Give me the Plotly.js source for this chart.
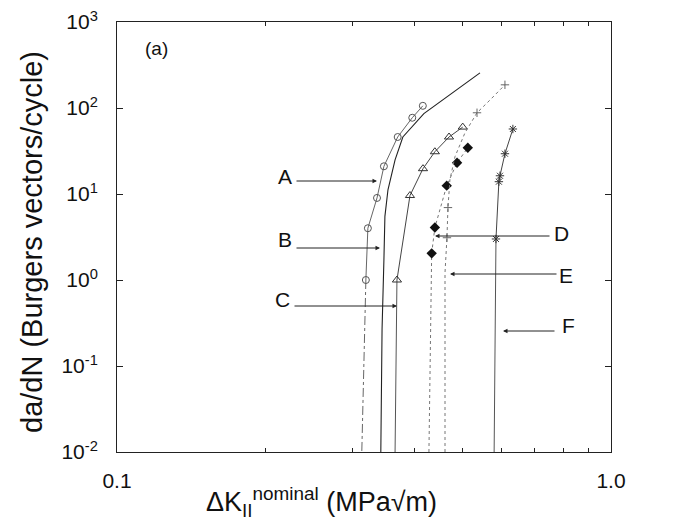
<!DOCTYPE html>
<html>
<head>
<meta charset="utf-8">
<script src="https://cdn.plot.ly/plotly-3.0.1.min.js"></script>
<style>html,body{margin:0;padding:0;background:#fff;}#chart{width:689px;height:522px;}</style>
</head>
<body>
<div id="chart"></div>
<script>
// Curve A (open circles)
const A_x = [0.319, 0.322, 0.336, 0.347, 0.370, 0.396, 0.416];
const A_y = [1.0, 4.0, 9.0, 21, 46, 77, 106];
const A_tail_x = [0.319, 0.316, 0.313];
const A_tail_y = [1.0, 0.1, 0.01];
// Curve B (solid, no markers)
const B_x = [0.342, 0.344, 0.347, 0.3486, 0.3536, 0.3655, 0.379, 0.418, 0.543];
const B_y = [0.01, 0.27, 1.73, 5.5, 11.2, 25, 46, 86, 256];
// Curve C (open triangles)
const C_x = [0.3687, 0.3918, 0.4163, 0.440, 0.470, 0.501];
const C_y = [1.0, 9.6, 19.7, 31, 46, 60];
const C_tail_x = [0.3655, 0.3687];
const C_tail_y = [0.01, 1.0];
// Curve D (filled diamonds)
const D_x = [0.4335, 0.440, 0.465, 0.488, 0.513];
const D_y = [2.04, 4.07, 12.5, 23.1, 34.5];
const D_tail_x = [0.428, 0.4335];
const D_tail_y = [0.01, 2.04];
// Curve E (dotted, small markers)
const E_line_x = [0.4613, 0.4613, 0.4655, 0.4677, 0.472, 0.4833, 0.5064, 0.5355, 0.569, 0.610];
const E_line_y = [0.01, 1.22, 3.1, 6.95, 14.7, 27.2, 51.6, 88, 124, 186];
const E_x = [0.4655, 0.4677, 0.5355, 0.610];
const E_y = [3.1, 6.95, 88, 186];
// Curve F (asterisks)
const F_x = [0.585, 0.593, 0.596, 0.610, 0.633];
const F_y = [3.0, 13.9, 16.3, 29.4, 57];
const F_tail_x = [0.580, 0.585];
const F_tail_y = [0.01, 3.0];

const yTickVals = [0.01, 0.1, 1, 10, 100, 1000];
const yTickText = ['10<sup>-2</sup>', '10<sup>-1</sup>', '10<sup>0</sup>', '10<sup>1</sup>', '10<sup>2</sup>', '10<sup>3</sup>'];
const xTickVals = [0.1, 1.0];
const xTickText = ['0.1', '1.0'];
const xMinorVals = [0.2, 0.3, 0.4, 0.5, 0.6, 0.7, 0.8, 0.9];

const curveLabels = ['A', 'B', 'C', 'D', 'E', 'F'];

const traces = [
  {x: A_tail_x, y: A_tail_y, mode: 'lines', line: {color: '#666', width: 1, dash: 'dashdot'}},
  {x: A_x, y: A_y, mode: 'lines+markers', line: {color: '#666', width: 1},
   marker: {symbol: 'circle-open', size: 7, color: '#555', line: {width: 1}}},
  {x: B_x, y: B_y, mode: 'lines', line: {color: '#222', width: 1.1}},
  {x: C_tail_x, y: C_tail_y, mode: 'lines', line: {color: '#555', width: 1}},
  {x: C_x, y: C_y, mode: 'lines+markers', line: {color: '#444', width: 1},
   marker: {symbol: 'triangle-up-open', size: 8, color: '#333', line: {width: 1}}},
  {x: D_tail_x, y: D_tail_y, mode: 'lines', line: {color: '#777', width: 1, dash: 'dot'}},
  {x: D_x, y: D_y, mode: 'lines+markers', line: {color: '#777', width: 1, dash: 'dot'},
   marker: {symbol: 'diamond', size: 8, color: '#111'}},
  {x: E_line_x, y: E_line_y, mode: 'lines', line: {color: '#777', width: 1, dash: 'dot'}},
  {x: E_x, y: E_y, mode: 'markers',
   marker: {symbol: 'cross-thin-open', size: 6, color: '#666', line: {width: 1, color: '#666'}}},
  {x: F_tail_x, y: F_tail_y, mode: 'lines', line: {color: '#555', width: 1}},
  {x: F_x, y: F_y, mode: 'lines+markers', line: {color: '#444', width: 1},
   marker: {symbol: 'asterisk-open', size: 7, color: '#333', line: {width: 1, color: '#333'}}}
];

// label positions (paper coordinates)
function px(p) { return (p - 117) / 494; }
function py(p) { return (452 - p) / 430; }
const labelPos = [[285, 176], [285, 240], [282, 299], [561, 234], [566, 275], [568, 325]];
const arrowHead = [[377, 181, -82], [380, 248, -85], [397, 306, -104], [435, 236, 116], [450, 274, 108], [503, 331, 53]];

const annotations = [];
curveLabels.forEach((t, i) => {
  annotations.push({xref: 'paper', yref: 'paper', x: px(labelPos[i][0]), y: py(labelPos[i][1]),
    text: t, showarrow: false, xanchor: 'center', yanchor: 'middle',
    font: {family: 'Liberation Sans, Arial, sans-serif', size: 21, color: '#111'}});
  annotations.push({xref: 'paper', yref: 'paper', x: px(arrowHead[i][0]), y: py(arrowHead[i][1]),
    ax: arrowHead[i][2], ay: 0, text: ' ', showarrow: true, arrowhead: 2, arrowsize: 0.9,
    arrowwidth: 1, arrowcolor: '#222', font: {size: 1}});
});
annotations.push({xref: 'paper', yref: 'paper', x: px(156), y: py(48), text: '(a)', showarrow: false,
  xanchor: 'center', yanchor: 'middle', font: {family: 'Liberation Sans, Arial, sans-serif', size: 19, color: '#111'}});
annotations.push({xref: 'paper', yref: 'paper', x: px(321), y: py(502),
  text: 'ΔK<sub>II</sub><sup>nominal</sup> (MPa√m)', showarrow: false,
  xanchor: 'center', yanchor: 'middle', font: {family: 'Liberation Sans, Arial, sans-serif', size: 27, color: '#111'}});
annotations.push({xref: 'paper', yref: 'paper', x: px(32), y: py(242), textangle: -90,
  text: 'da/dN (Burgers vectors/cycle)', showarrow: false,
  xanchor: 'center', yanchor: 'middle', font: {family: 'Liberation Sans, Arial, sans-serif', size: 29, color: '#111'}});

const layout = {
  width: 689, height: 522,
  margin: {l: 117, r: 78, t: 22, b: 70},
  paper_bgcolor: '#fff', plot_bgcolor: '#fff',
  showlegend: false,
  font: {family: 'Liberation Sans, Arial, sans-serif', color: '#111'},
  xaxis: {type: 'log', range: [-1, 0], tickmode: 'array', tickvals: xTickVals, ticktext: xTickText,
    ticks: 'inside', ticklen: 6, tickcolor: '#222', showline: true, linecolor: '#222', linewidth: 1,
    mirror: 'ticks', showgrid: false, zeroline: false, tickfont: {size: 21}, ticklabelstandoff: 10,
    minor: {tickmode: 'array', tickvals: xMinorVals, ticks: 'inside', ticklen: 4, tickcolor: '#222', showgrid: false}},
  yaxis: {type: 'log', range: [-2, 3], tickmode: 'array', tickvals: yTickVals, ticktext: yTickText,
    ticks: 'inside', ticklen: 6, tickcolor: '#222', showline: true, linecolor: '#222', linewidth: 1,
    mirror: 'ticks', showgrid: false, zeroline: false, tickfont: {size: 21}, ticklabelstandoff: 14},
  annotations: annotations
};

Plotly.newPlot('chart', traces, layout, {displayModeBar: false, staticPlot: true});
</script>
</body>
</html>
